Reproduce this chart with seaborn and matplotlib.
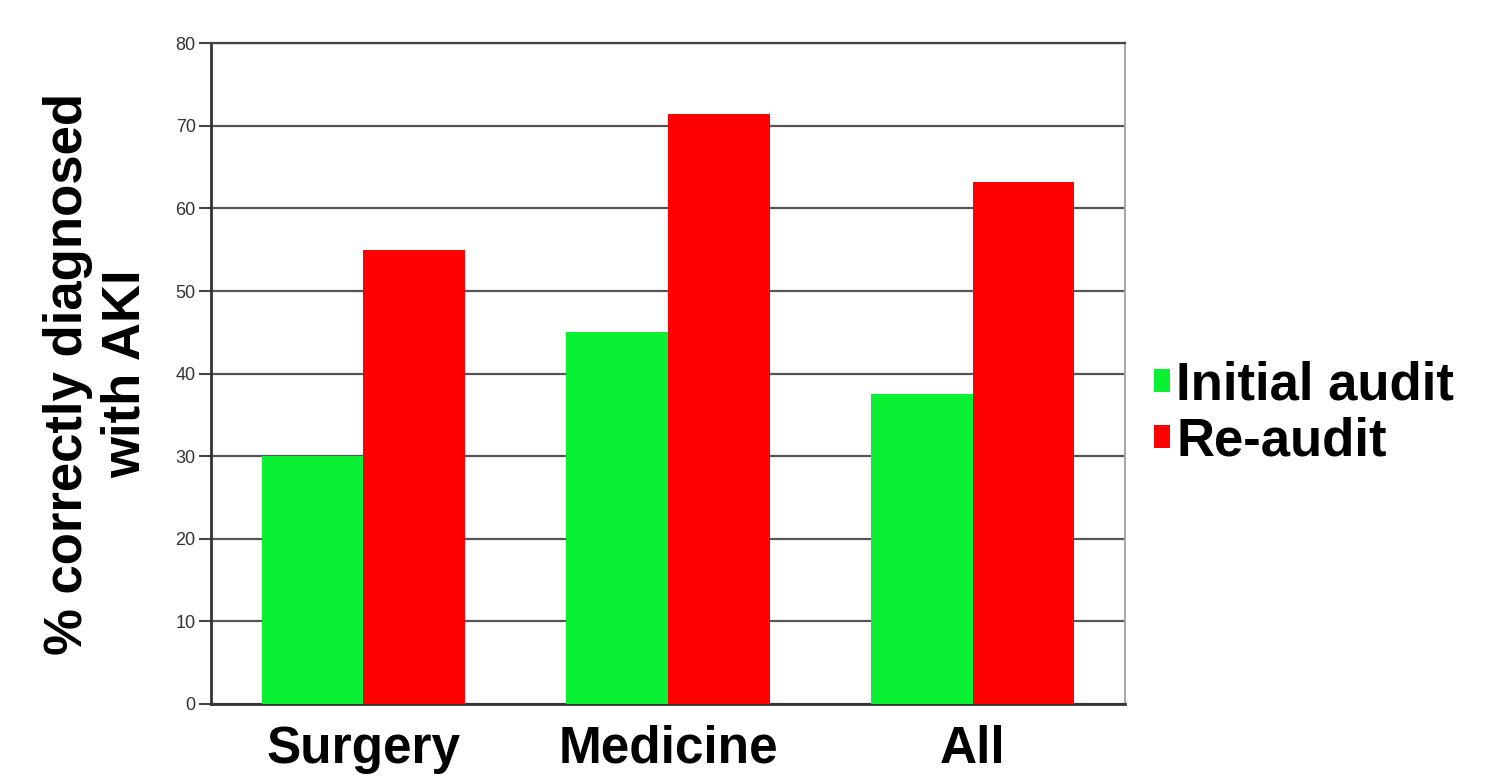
import matplotlib
matplotlib.use("Agg")
import matplotlib.pyplot as plt
import seaborn as sns
import pandas as pd
from matplotlib.patches import Patch

categories = ["Surgery", "Medicine", "All"]
series_names = ["Initial audit", "Re-audit"]
initial_audit = [30, 45, 37.5]
re_audit = [55, 71.4, 63.2]
y_ticks = [0, 10, 20, 30, 40, 50, 60, 70, 80]

df = pd.DataFrame({
    "category": categories * 2,
    "audit": [series_names[0]] * 3 + [series_names[1]] * 3,
    "value": initial_audit + re_audit,
})

sns.set_theme(style="white")
plt.rcParams["font.family"] = ["Liberation Sans", "DejaVu Sans"]
plt.rcParams["text.color"] = "black"

palette = {"Initial audit": "#0af032", "Re-audit": "#ff0000"}

fig = plt.figure(figsize=(14.92, 7.76), dpi=100)
ax = fig.add_axes([0.1414, 0.0928, 0.6126, 0.8514])

sns.barplot(data=df, x="category", y="value", hue="audit", palette=palette,
            order=categories, hue_order=series_names, width=0.667,
            saturation=1, ax=ax, legend=False, edgecolor="none", linewidth=0,
            zorder=3)

ax.set_xlim(-0.5, 2.5)
ax.set_ylim(0, 80)
ax.set_yticks(y_ticks)
ax.set_yticklabels([str(t) for t in y_ticks], fontsize=13, color="#333333")
ax.yaxis.grid(True, color="#555555", linewidth=1.6, zorder=0)
ax.set_axisbelow(True)
ax.tick_params(axis="y", length=9, width=1.5, color="#444444", pad=2, left=True)
ax.tick_params(axis="x", length=0, pad=15)
for lbl in ax.get_xticklabels():
    lbl.set_fontsize(37)
    lbl.set_fontweight("bold")
    lbl.set_color("black")

ax.set_xlabel("")
ax.set_ylabel("% correctly diagnosed\nwith AKI", fontsize=38, fontweight="bold",
              color="black", labelpad=18, linespacing=1.2)

for side in ["left", "bottom"]:
    ax.spines[side].set_color("#333333")
    ax.spines[side].set_linewidth(2)
ax.spines["top"].set_color("#444444")
ax.spines["top"].set_linewidth(1.6)
ax.spines["right"].set_color("#aaaaaa")
ax.spines["right"].set_linewidth(1.5)

handles = [Patch(facecolor=palette[n], edgecolor="none") for n in series_names]
leg = fig.legend(handles, series_names, loc="center left",
                 bbox_to_anchor=(0.7595, 0.467), frameon=False,
                 prop={"size": 38, "weight": "bold"},
                 handlelength=0.3, handleheight=0.3, handletextpad=0.12,
                 labelspacing=0.12, borderaxespad=0)
for t in leg.get_texts():
    t.set_color("black")

fig.savefig("out.png", dpi=100, facecolor="white")
